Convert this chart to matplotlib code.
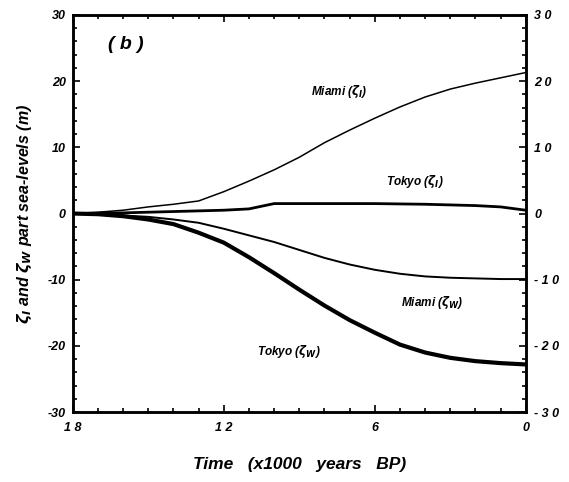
import numpy as np
import matplotlib
matplotlib.use("Agg")
import matplotlib.pyplot as plt
from matplotlib.ticker import MultipleLocator, FixedLocator

plt.rcParams['font.family'] = ['Liberation Sans', 'DejaVu Sans']
plt.rcParams['mathtext.fontset'] = 'custom'
plt.rcParams['mathtext.rm'] = 'DejaVu Sans:bold:italic'
plt.rcParams['mathtext.it'] = 'DejaVu Sans:bold:italic'
plt.rcParams['mathtext.bf'] = 'DejaVu Sans:bold:italic'

# time in kyr BP
t = [18, 17, 16, 15, 14, 13, 12, 11, 10, 9, 8, 7, 6, 5, 4, 3, 2, 1, 0]

miami_i = [0, 0.2, 0.5, 1.0, 1.4, 1.9, 3.3, 4.9, 6.6, 8.5, 10.7, 12.6, 14.4,
           16.1, 17.6, 18.8, 19.7, 20.5, 21.3]
tokyo_i = [0, 0.05, 0.1, 0.2, 0.3, 0.4, 0.5, 0.7, 1.5, 1.5, 1.5, 1.5, 1.5,
           1.45, 1.4, 1.3, 1.2, 1.0, 0.5]
miami_w = [0, -0.1, -0.3, -0.5, -0.9, -1.4, -2.3, -3.3, -4.3, -5.5, -6.7,
           -7.7, -8.5, -9.1, -9.5, -9.7, -9.8, -9.9, -9.9]
tokyo_w = [0, -0.1, -0.4, -0.9, -1.6, -2.9, -4.4, -6.6, -9.0, -11.5, -13.9,
           -16.1, -18.0, -19.8, -21.0, -21.8, -22.3, -22.6, -22.8]

xticks = [18, 12, 6, 0]
xticklabels = ['1 8', '1 2', '6', '0']
yticks = [30, 20, 10, 0, -10, -20, -30]
yticklabels_left = ['30', '20', '10', '0', '-10', '-20', '-30']
yticklabels_right = ['3 0', '2 0', '1 0', '0', '- 1 0', '- 2 0', '- 3 0']

fig = plt.figure(figsize=(5.69, 4.82), dpi=100)
ax = fig.add_axes([0.128, 0.145, 0.796, 0.824])

ax.plot(t, miami_i, color='black', lw=1.1)
ax.plot(t, tokyo_i, color='black', lw=2.0)
ax.plot(t, miami_w, color='black', lw=1.4)
ax.plot(t, tokyo_w, color='black', lw=3.0)

ax.set_xlim(18, 0)
ax.set_ylim(-30, 30)

tick_font = dict(fontsize=9, fontweight='bold', fontstyle='italic')
ax.xaxis.set_major_locator(FixedLocator(xticks))
ax.xaxis.set_minor_locator(MultipleLocator(1))
ax.set_xticklabels(xticklabels, **tick_font)
ax.yaxis.set_major_locator(FixedLocator(yticks))
ax.yaxis.set_minor_locator(MultipleLocator(2))
ax.set_yticklabels(yticklabels_left, **tick_font)
ax.tick_params(which='both', direction='in', top=True, right=True, width=1.2)
ax.tick_params(which='major', length=5)
ax.tick_params(which='minor', length=3)
ax.tick_params(axis='x', pad=7)
ax.tick_params(axis='y', pad=5)

ax2 = ax.twinx()
ax2.set_ylim(-30, 30)
ax2.yaxis.set_major_locator(FixedLocator(yticks))
ax2.yaxis.set_minor_locator(MultipleLocator(2))
ax2.set_yticklabels(yticklabels_right, **tick_font)
ax2.tick_params(which='both', direction='in', width=1.2, pad=6)
ax2.tick_params(which='major', length=5)
ax2.tick_params(which='minor', length=3)

for a in (ax, ax2):
    for s in a.spines.values():
        s.set_linewidth(1.8)

lab = dict(fontsize=8.5, fontweight='bold', fontstyle='italic', ha='center', va='center')
ax.text(15.9, 25.5, '( b )', fontsize=14, fontweight='bold', fontstyle='italic',
        ha='center', va='center')
ax.text(7.4, 18.4, r'Miami ($\zeta_I$)', **lab)
ax.text(4.4, 4.8, r'Tokyo ($\zeta_I$)', **lab)
ax.text(3.7, -13.5, r'Miami ($\zeta_W$)', **lab)
ax.text(9.4, -20.9, r'Tokyo ($\zeta_W$)', **lab)

ax.set_ylabel(r'$\zeta_I$ and $\zeta_W$ part sea-levels (m)', fontsize=11.5,
              fontweight='bold', fontstyle='italic', labelpad=10)
ax.set_xlabel('Time   (x1000   years   BP)', fontsize=12.5, fontweight='bold',
              fontstyle='italic', labelpad=17)

fig.savefig('out.png', dpi=100)
